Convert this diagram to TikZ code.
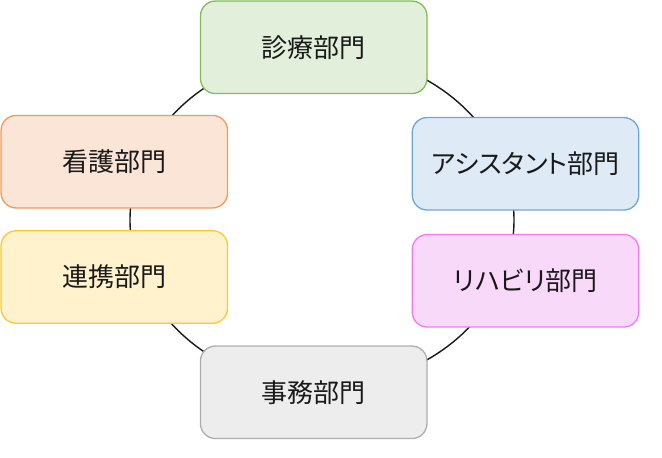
\documentclass[tikz,border=0pt]{standalone}
\usepackage{fontspec}
\newfontfamily\jpfont{Noto Sans CJK JP}
\newfontfamily\jpkana[RawFeature=+palt]{Noto Sans CJK JP}
\definecolor{gfill}{HTML}{E2EFDA}\definecolor{gdraw}{HTML}{82BB5C}
\definecolor{ofill}{HTML}{FBE5D6}\definecolor{odraw}{HTML}{F29A5A}
\definecolor{bfill}{HTML}{DEEBF7}\definecolor{bdraw}{HTML}{6FA6DA}
\definecolor{yfill}{HTML}{FFF2CC}\definecolor{ydraw}{HTML}{FFC82E}
\definecolor{pfill}{HTML}{F9D9FA}\definecolor{pdraw}{HTML}{F778F4}
\definecolor{kfill}{HTML}{EDEDED}\definecolor{kdraw}{HTML}{ADADAD}
\begin{document}
\begin{tikzpicture}[x=1pt,y=-1pt,
  dept/.style={rectangle, rounded corners=15pt, line width=1.3pt,
    minimum width=226.5pt, minimum height=92.5pt, inner sep=0pt,
    font=\jpfont\fontsize{26}{30}\selectfont, text=black!90},
  ring/.style={line width=1.4pt, draw=black!90}]
\useasboundingbox (0,0) rectangle (662,458);
\draw[ring] (322,220) ellipse [x radius=192, y radius=167];
\node[dept, fill=gfill, draw=gdraw] (shinryo) at (313.7,47.3) {診療部門};
\node[dept, fill=ofill, draw=odraw] (kango) at (114.3,161.7) {看護部門};
\node[dept, fill=bfill, draw=bdraw] (assist) at (525.5,163.8) {\jpkana アシスタント部門};
\node[dept, fill=yfill, draw=ydraw] (renkei) at (114.3,277) {連携部門};
\node[dept, fill=pfill, draw=pdraw] (reha) at (525.5,280.8) {\jpkana リハビリ部門};
\node[dept, fill=kfill, draw=kdraw] (jimu) at (313.7,392.3) {事務部門};
\end{tikzpicture}
\end{document}
